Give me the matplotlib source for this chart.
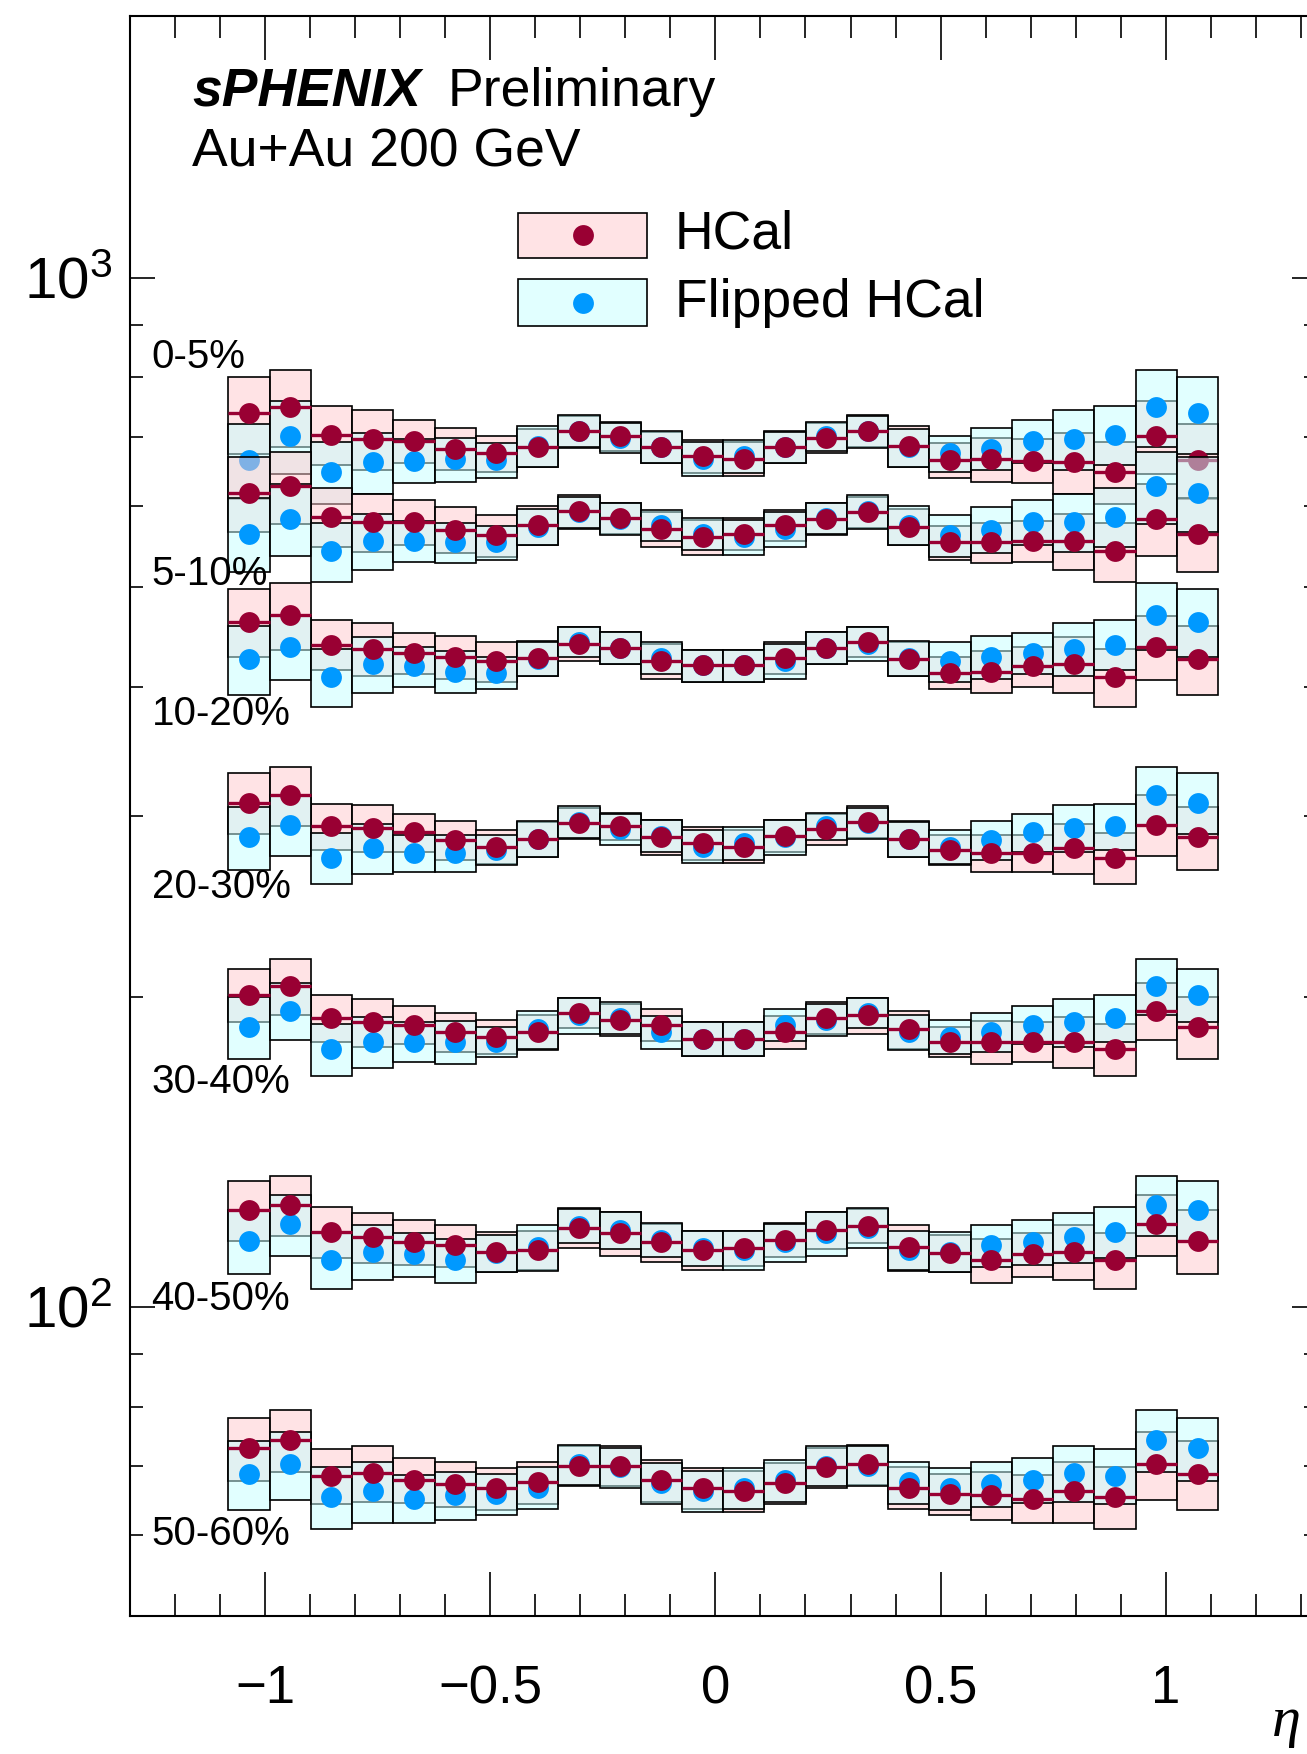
import numpy as np
import matplotlib
matplotlib.use('Agg')
import matplotlib.pyplot as plt
from matplotlib.patches import Rectangle
from matplotlib.lines import Line2D
from matplotlib.ticker import MultipleLocator, LogLocator, NullFormatter

# dE/deta per tower bin, HCal and the eta-flipped HCal, per centrality class
centralities = ['0-5%', '5-10%', '10-20%', '20-30%', '30-40%', '40-50%', '50-60%']

hcal_0_5 = [738, 749, 704, 697, 694, 682, 675, 684, 709, 701, 684, 671, 667, 685, 699, 710, 686, 665, 666, 664, 662, 647, 702, 665]
hcal_5_10 = [618, 627, 586, 579, 579, 569, 562, 575, 593, 584, 570, 560, 564, 575, 583, 592, 573, 553, 553, 555, 555, 542, 583, 564]
hcal_10_20 = [463, 470, 440, 436, 432, 428, 424, 427, 441, 437, 424, 420, 420, 427, 437, 443, 426, 413, 414, 419, 421, 409, 438, 426]
hcal_20_30 = [309, 314, 293, 292, 289, 284, 280, 285, 295, 293, 286, 282, 280, 287, 291, 296, 285, 278, 276, 276, 279, 273, 294, 286]
hcal_30_40 = [201, 205, 191, 189, 188, 185, 183, 185, 193, 190, 188, 182, 182, 185, 191, 192, 186, 181, 181, 181, 181, 178, 194, 187]
hcal_40_50 = [124.2, 125.6, 118.3, 116.8, 115.7, 114.8, 113.1, 113.5, 119.4, 117.9, 115.5, 113.5, 114.0, 116.1, 118.7, 119.9, 114.2, 112.8, 111.0, 112.5, 113.1, 111.0, 120.3, 115.9]
hcal_50_60 = [72.9, 74.3, 68.5, 68.9, 67.9, 67.3, 66.6, 67.5, 70.1, 70.1, 67.8, 66.7, 66.2, 67.4, 69.8, 70.3, 66.7, 65.8, 65.6, 65.1, 66.2, 65.3, 70.3, 68.8]

flip_0_5 = [665, 702, 647, 662, 664, 666, 665, 686, 710, 699, 685, 667, 671, 684, 701, 709, 684, 675, 682, 694, 697, 704, 749, 738]
flip_5_10 = [564, 583, 542, 555, 555, 553, 553, 573, 592, 583, 575, 564, 560, 570, 584, 593, 575, 562, 569, 579, 579, 586, 627, 618]
flip_10_20 = [426, 438, 409, 421, 419, 414, 413, 426, 443, 437, 427, 420, 420, 424, 437, 441, 427, 424, 428, 432, 436, 440, 470, 463]
flip_20_30 = [286, 294, 273, 279, 276, 276, 278, 285, 296, 291, 287, 280, 282, 286, 293, 295, 285, 280, 284, 289, 292, 293, 314, 309]
flip_30_40 = [187, 194, 178, 181, 181, 181, 181, 186, 192, 191, 185, 182, 182, 188, 190, 193, 185, 183, 185, 188, 189, 191, 205, 201]
flip_40_50 = [115.9, 120.3, 111.0, 113.1, 112.5, 111.0, 112.8, 114.2, 119.9, 118.7, 116.1, 114.0, 113.5, 115.5, 117.9, 119.4, 113.5, 113.1, 114.8, 115.7, 116.8, 118.3, 125.6, 124.2]
flip_50_60 = [68.8, 70.3, 65.3, 66.2, 65.1, 65.6, 65.8, 66.7, 70.3, 69.8, 67.4, 66.2, 66.7, 67.8, 70.1, 70.1, 67.5, 66.6, 67.3, 67.9, 68.9, 68.5, 74.3, 72.9]

# systematic uncertainty, percent
hsys_0_5 = [8.6, 8.6, 6.5, 6.7, 4.8, 4.7, 4.0, 4.2, 3.6, 3.3, 3.5, 3.7, 3.7, 3.6, 3.4, 3.5, 4.5, 3.9, 5.0, 4.9, 6.8, 6.9, 8.2, 8.3]
hsys_5_10 = [8.4, 8.1, 6.5, 6.5, 5.1, 5.1, 4.7, 4.4, 3.8, 3.5, 3.9, 3.9, 3.5, 3.5, 3.5, 3.5, 4.0, 3.8, 4.5, 4.6, 6.3, 6.6, 8.0, 8.2]
hsys_10_20 = [7.6, 7.4, 5.6, 5.9, 4.6, 4.7, 4.5, 4.0, 3.9, 3.6, 4.0, 3.6, 3.6, 3.6, 3.6, 3.4, 3.8, 3.6, 4.7, 4.5, 6.2, 6.5, 7.2, 7.7]
hsys_20_30 = [6.8, 6.6, 5.2, 5.2, 4.2, 4.3, 3.9, 3.9, 3.5, 3.1, 4.0, 3.7, 3.7, 3.5, 3.5, 3.5, 4.0, 3.3, 4.1, 4.1, 5.6, 5.7, 6.8, 7.0]
hsys_30_40 = [6.0, 6.2, 5.3, 5.3, 4.2, 4.3, 3.8, 3.9, 3.3, 3.6, 3.5, 3.8, 3.8, 3.7, 3.5, 4.0, 4.3, 3.4, 4.8, 4.4, 5.7, 5.8, 6.4, 6.9]
hsys_40_50 = [6.7, 6.7, 5.7, 5.5, 5.0, 4.7, 4.5, 4.3, 4.4, 4.9, 4.3, 4.3, 3.9, 3.8, 4.1, 3.9, 5.1, 4.1, 4.9, 4.9, 6.1, 6.2, 6.8, 7.1]
hsys_50_60 = [7.0, 6.9, 6.2, 6.2, 5.0, 5.1, 4.6, 4.6, 4.4, 4.5, 4.6, 4.6, 4.6, 4.6, 4.5, 4.5, 4.7, 4.6, 5.4, 5.4, 6.8, 6.9, 7.6, 7.7]

fsys_0_5 = [8.3, 8.2, 6.9, 6.8, 4.9, 5.0, 3.9, 4.5, 3.5, 3.4, 3.6, 3.7, 3.7, 3.5, 3.3, 3.6, 4.2, 4.0, 4.7, 4.8, 6.7, 6.5, 8.6, 8.6]
fsys_5_10 = [8.2, 8.0, 6.6, 6.3, 4.6, 4.5, 3.8, 4.0, 3.5, 3.5, 3.5, 3.5, 3.9, 3.9, 3.5, 3.8, 4.4, 4.7, 5.1, 5.1, 6.5, 6.5, 8.1, 8.4]
fsys_10_20 = [7.7, 7.2, 6.5, 6.2, 4.5, 4.7, 3.6, 3.8, 3.4, 3.6, 3.6, 3.6, 3.6, 4.0, 3.6, 3.9, 4.0, 4.5, 4.7, 4.6, 5.9, 5.6, 7.4, 7.6]
fsys_20_30 = [7.0, 6.8, 5.7, 5.6, 4.1, 4.1, 3.3, 4.0, 3.5, 3.5, 3.5, 3.7, 3.7, 4.0, 3.1, 3.5, 3.9, 3.9, 4.3, 4.2, 5.2, 5.2, 6.6, 6.8]
fsys_30_40 = [6.9, 6.4, 5.8, 5.7, 4.4, 4.8, 3.4, 4.3, 4.0, 3.5, 3.7, 3.8, 3.8, 3.5, 3.6, 3.3, 3.9, 3.8, 4.3, 4.2, 5.3, 5.3, 6.2, 6.0]
fsys_40_50 = [7.1, 6.8, 6.2, 6.1, 4.9, 4.9, 4.1, 5.1, 3.9, 4.1, 3.8, 3.9, 4.3, 4.3, 4.9, 4.4, 4.3, 4.5, 4.7, 5.0, 5.5, 5.7, 6.7, 6.7]
fsys_50_60 = [7.7, 7.6, 6.9, 6.8, 5.4, 5.4, 4.6, 4.7, 4.5, 4.5, 4.6, 4.6, 4.6, 4.6, 4.5, 4.4, 4.6, 4.6, 5.1, 5.0, 6.2, 6.2, 6.9, 7.0]

hcal_all = [hcal_0_5, hcal_5_10, hcal_10_20, hcal_20_30, hcal_30_40, hcal_40_50, hcal_50_60]
flip_all = [flip_0_5, flip_5_10, flip_10_20, flip_20_30, flip_30_40, flip_40_50, flip_50_60]
hsys_all = [hsys_0_5, hsys_5_10, hsys_10_20, hsys_20_30, hsys_30_40, hsys_40_50, hsys_50_60]
fsys_all = [fsys_0_5, fsys_5_10, fsys_10_20, fsys_20_30, fsys_30_40, fsys_40_50, fsys_50_60]

# 24 tower bins in eta
eta_edges = np.linspace(-1.0823, 1.1169, 25)
eta_c = 0.5 * (eta_edges[:-1] + eta_edges[1:])
bin_w = eta_edges[1] - eta_edges[0]

plt.rcParams['font.family'] = ['Liberation Sans', 'DejaVu Sans']
plt.rcParams['mathtext.fontset'] = 'custom'
plt.rcParams['mathtext.rm'] = 'Liberation Sans'
plt.rcParams['mathtext.it'] = 'Liberation Sans:italic'
plt.rcParams['mathtext.bf'] = 'Liberation Sans:bold'

RED = '#990033'
BLUE = '#0099ff'
PINK = (1.0, 0.788, 0.804, 0.5)
CYAN = (0.773, 1.0, 1.0, 0.5)

W, H = 1307, 1754
fig = plt.figure(figsize=(W / 100, H / 100), dpi=100)


def fx(px):
    return px / W


def fy(py):
    return 1 - py / H


ax = fig.add_axes([fx(130.3), fy(1615.7), (1316.7 - 130.3) / W, (1615.7 - 15.5) / H])
ax.set_yscale('log')

for k in range(len(centralities)):
    h = np.array(hcal_all[k])
    f = np.array(flip_all[k])
    eh = h * np.array(hsys_all[k]) / 100
    ef = f * np.array(fsys_all[k]) / 100
    z = 3 + 5 * k
    ax.bar(eta_c, 2 * eh, bottom=h - eh, width=bin_w, color=PINK,
           edgecolor='black', linewidth=1.2, zorder=z)
    ax.bar(eta_c, 2 * ef, bottom=f - ef, width=bin_w, color=CYAN,
           edgecolor='black', linewidth=1.2, zorder=z + 1)
    ax.plot(eta_c, f, 'o', color=BLUE, ms=15, mec='none', zorder=z + 2)
    ax.hlines(h, eta_edges[:-1], eta_edges[1:], color=RED, lw=2.4,
              capstyle='butt', zorder=z + 3)
    ax.plot(eta_c, h, 'o', color=RED, ms=15, mec='none', zorder=z + 4)

ax.set_xlim(-1.3, 1.3357)
ax.set_ylim(50.1, 1798)

ax.set_xticks([-1, -0.5, 0, 0.5, 1], ['\u22121', '\u22120.5', '0', '0.5', '1'])
ax.xaxis.set_minor_locator(MultipleLocator(0.1))
ax.set_yticks([100, 1000], [r'$10^{2}$', r'$10^{3}$'])
ax.yaxis.set_minor_locator(LogLocator(base=10, subs=np.arange(2, 10)))
ax.yaxis.set_minor_formatter(NullFormatter())

ax.tick_params(which='both', direction='in', top=True, right=True, width=1.2)
ax.tick_params(axis='x', which='major', length=31.7, pad=35, labelsize=38)
ax.tick_params(axis='x', which='minor', length=15.8)
ax.tick_params(axis='y', which='major', length=18, pad=13, labelsize=42)
ax.tick_params(axis='y', which='minor', length=9.1)
for sp in ax.spines.values():
    sp.set_linewidth(1.5)

# header text
fig.text(fx(192), fy(106), 'sPHENIX', fontsize=38.5, fontweight='bold',
         fontstyle='italic', va='baseline')
fig.text(fx(448), fy(106), 'Preliminary', fontsize=38.5, va='baseline')
fig.text(fx(192), fy(166.7), 'Au+Au 200 GeV', fontsize=38.5, va='baseline')

# legend, drawn by hand
for (y0, y1, fc, mc, lab) in [(212.5, 258, PINK, RED, 'HCal'),
                              (279, 326, CYAN, BLUE, 'Flipped HCal')]:
    fig.add_artist(Rectangle((fx(518), fy(y1)), (647 - 518) / W, (y1 - y0) / H,
                             transform=fig.transFigure, facecolor=fc,
                             edgecolor='black', lw=1.2))
    fig.add_artist(Line2D([fx(582.5)], [fy(0.5 * (y0 + y1))], marker='o', ms=15,
                          color=mc, ls='none', mec='none', transform=fig.transFigure))
    fig.text(fx(675), fy(y1 - 9.5), lab, fontsize=38.5, va='baseline')

# centrality labels
label_base = [368, 585, 725, 898, 1093, 1310, 1545]
for lab, yb in zip(centralities, label_base):
    fig.text(fx(151.5), fy(yb), lab, fontsize=29, va='baseline', zorder=50)

# axis title at the right end, kept inside the canvas
fig.text(fx(1272), fy(1736), '\u03b7', fontsize=42, family='Liberation Serif',
         fontstyle='italic', va='baseline')

fig.savefig('out.png', dpi=100)
